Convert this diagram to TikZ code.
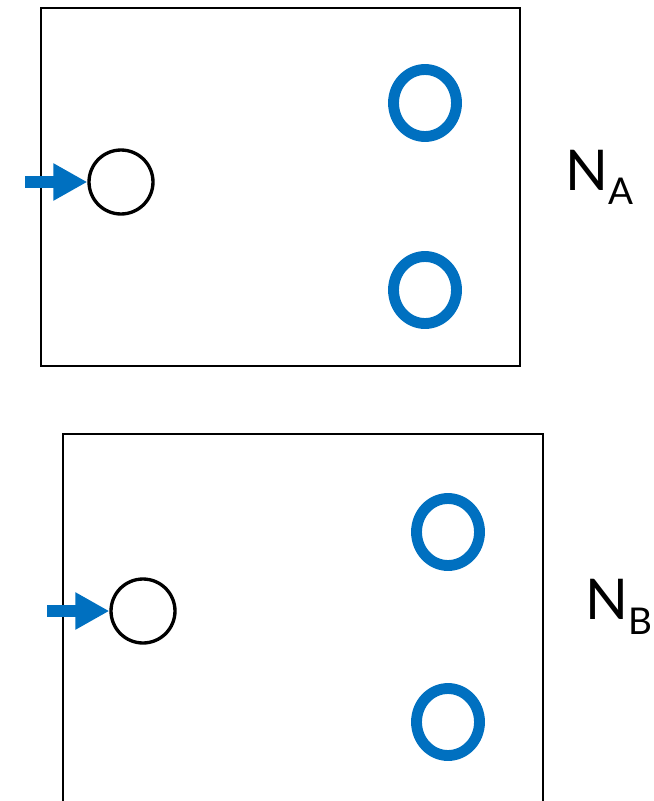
\documentclass[tikz,border=0pt]{standalone}
\usepackage{fontspec}
\setmainfont{Lato}
\usetikzlibrary{arrows.meta,shapes.geometric}
\definecolor{netblue}{HTML}{0070C0}
\tikzset{
	port/.style={circle, draw, line width=1.9pt, minimum size=1.28cm, inner sep=0pt},
	place/.style={ellipse, draw=netblue, line width=6.2pt, minimum width=1.26cm, minimum height=1.34cm, inner sep=0pt},
	inarrow/.style={netblue, line width=6.8pt, -{Triangle[length=0.68cm, width=0.7cm]}},
	netname/.style={anchor=base west, inner sep=0pt, font=\fontsize{32}{36}\selectfont},
}
\newcommand{\sublabel}[1]{\raisebox{-0.3cm}{\fontsize{21}{21}\selectfont #1}}

\begin{document}
\begin{tikzpicture}[x=0.02cm, y=-0.02cm]
	\useasboundingbox (0, 0) rectangle (653, 801);
	% net A
	\draw[line width=1.1pt] (41, 8) rectangle (520, 366);
	\node[port] (inA) at (121, 182) {};
	\node[place] (pA1) at (425, 103) {};
	\node[place] (pA2) at (425, 290) {};
	\coordinate (srcA) at (25, 182);
	\draw[inarrow] (srcA) -- (inA.west);
	\node[netname] (nameA) at (565, 190) {N\sublabel{A}};

	% net B
	\draw[line width=1.1pt] (63, 801) -- (63, 434) -- (543, 434) -- (543, 801);
	\node[port] (inB) at (143, 611) {};
	\node[place] (pB1) at (448, 532) {};
	\node[place] (pB2) at (448, 722) {};
	\coordinate (srcB) at (47, 611);
	\draw[inarrow] (srcB) -- (inB.west);
	\node[netname] (nameB) at (585, 619) {N\sublabel{B}};
\end{tikzpicture}
\end{document}
